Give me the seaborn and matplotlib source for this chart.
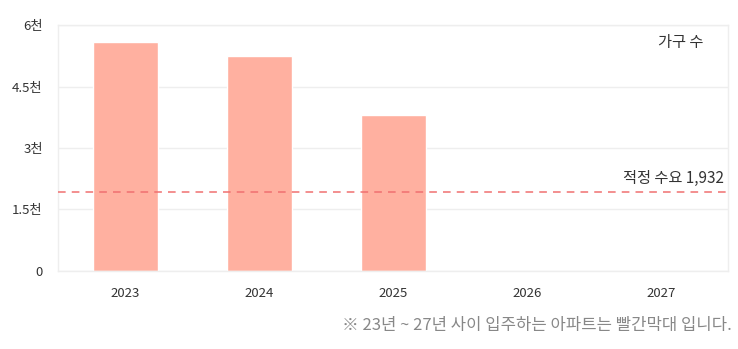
import matplotlib
matplotlib.use("Agg")
import matplotlib.pyplot as plt
import seaborn as sns
import pandas as pd

years = ["2023", "2024", "2025", "2026", "2027"]
households = [5585, 5250, 3810, 0, 0]
demand = 1932
yticks = [0, 1500, 3000, 4500, 6000]
ytick_labels = ["0", "1.5천", "3천", "4.5천", "6천"]

sns.set_theme(style="white")
plt.rcParams["font.family"] = ["Noto Sans CJK KR", "DejaVu Sans"]

fig = plt.figure(figsize=(7.38, 3.49), dpi=100)
ax = fig.add_axes([0.0786, 0.2244, 0.908, 0.703])

df = pd.DataFrame({"year": years, "value": households})
sns.barplot(data=df, x="year", y="value", color="#ffb0a0", saturation=1,
            width=0.485, ax=ax, zorder=2)

ax.axhline(demand, color="#f07070", linestyle=(0, (5, 4)), linewidth=1.1, zorder=3)
ax.text(0.993, demand + 110, f"적정 수요 {demand:,}", transform=ax.get_yaxis_transform(),
        ha="right", va="bottom", fontsize=11, color="#333333")
ax.text(0.963, 0.93, "가구 수", transform=ax.transAxes, ha="right", va="center",
        fontsize=11, color="#333333")

ax.set_ylim(0, 6000)
ax.set_xlim(-0.5, 4.5)
ax.set_yticks(yticks)
ax.set_yticklabels(ytick_labels)
ax.yaxis.grid(True, color="#eeeeee", linewidth=1, zorder=0)
ax.set_axisbelow(True)
ax.tick_params(axis="both", length=0, labelsize=9.5, colors="#333333")
ax.tick_params(axis="y", pad=11)
ax.tick_params(axis="x", pad=12)
ax.set_xlabel("")
ax.set_ylabel("")
for s in ax.spines.values():
    s.set_color("#eeeeee")
    s.set_linewidth(1)

fig.text(0.992, 0.068, "※ 23년 ~ 27년 사이 입주하는 아파트는 빨간막대 입니다.",
         ha="right", va="center", fontsize=12, color="#888888")

fig.savefig("out.png", dpi=100)
